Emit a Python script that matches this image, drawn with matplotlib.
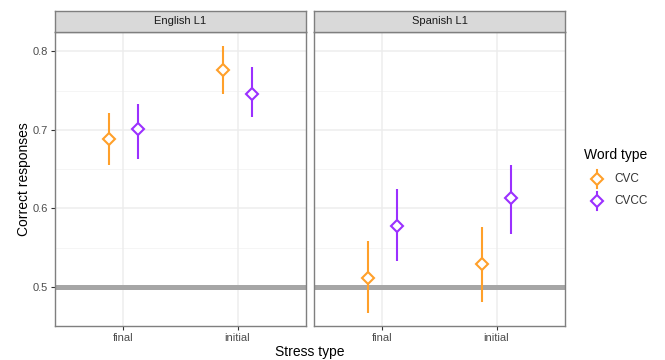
import matplotlib
matplotlib.use("Agg")
import matplotlib.pyplot as plt
from matplotlib.lines import Line2D
import numpy as np

panels = ["English L1", "Spanish L1"]
stress = ["final", "initial"]
word_types = ["CVC", "CVCC"]
colors = {"CVC": "#FFA02A", "CVCC": "#9B30FF"}

# [panel][word type] -> values per stress (final, initial)
mean = {
    "English L1": {"CVC": [0.688, 0.776], "CVCC": [0.701, 0.746]},
    "Spanish L1": {"CVC": [0.511, 0.529], "CVCC": [0.578, 0.613]},
}
lower = {
    "English L1": {"CVC": [0.655, 0.746], "CVCC": [0.663, 0.717]},
    "Spanish L1": {"CVC": [0.467, 0.481], "CVCC": [0.533, 0.568]},
}
upper = {
    "English L1": {"CVC": [0.722, 0.807], "CVCC": [0.733, 0.780]},
    "Spanish L1": {"CVC": [0.559, 0.577], "CVCC": [0.625, 0.655]},
}
chance = 0.5

W, H = 665, 360
fig = plt.figure(figsize=(W / 100, H / 100), dpi=100)
plt.rcParams['font.family'] = ['Liberation Sans', 'DejaVu Sans']

lefts = [55, 314]
pw = 251
top, bottom = 32, 326
strip_top = 11
dodge = {"CVC": -0.125, "CVCC": 0.125}
xs = np.arange(1, len(stress) + 1)

for i, p in enumerate(panels):
    ax = fig.add_axes([lefts[i] / W, 1 - bottom / H, pw / W, (bottom - top) / H])
    ax.set_xlim(0.4, 2.6)
    ax.set_ylim(0.4505, 0.8245)
    ax.set_facecolor("white")
    for yv in [0.55, 0.65, 0.75]:
        ax.axhline(yv, color="#F4F4F4", lw=0.6, zorder=0)
    for yv in [0.5, 0.6, 0.7, 0.8]:
        ax.axhline(yv, color="#EDEDED", lw=1.1, zorder=0)
    for xv in xs:
        ax.axvline(xv, color="#EDEDED", lw=1.1, zorder=0)
    ax.axhline(chance, color="#A6A6A6", lw=3.6, zorder=1)
    for wt in word_types:
        x = xs + dodge[wt]
        m = np.array(mean[p][wt])
        lo = np.array(lower[p][wt])
        hi = np.array(upper[p][wt])
        ax.vlines(x, lo, hi, color=colors[wt], lw=1.5, zorder=3)
        ax.plot(x, m, linestyle="none", marker="D", markersize=6.5,
                markerfacecolor="white", markeredgecolor=colors[wt],
                markeredgewidth=1.5, zorder=4)
    ax.set_xticks(xs)
    ax.set_xticklabels(stress)
    ax.set_yticks([0.5, 0.6, 0.7, 0.8])
    if i == 0:
        ax.set_yticklabels(["0.5", "0.6", "0.7", "0.8"])
    else:
        ax.tick_params(axis="y", left=False, labelleft=False)
    ax.tick_params(axis="both", colors="#333333", labelcolor="#4D4D4D",
                   labelsize=8, length=3, width=0.8, pad=2)
    for s in ax.spines.values():
        s.set_color("#7F7F7F")
        s.set_linewidth(1.0)
    # strip
    sax = fig.add_axes([lefts[i] / W, 1 - top / H, pw / W, (top - strip_top) / H])
    sax.set_facecolor("#D9D9D9")
    sax.set_xticks([]); sax.set_yticks([])
    for s in sax.spines.values():
        s.set_color("#7F7F7F")
        s.set_linewidth(1.0)
    sax.text(0.5, 0.5, p, ha="center", va="center", fontsize=8,
             color="#1A1A1A", transform=sax.transAxes)

fig.text(24 / W, 1 - 179 / H, "Correct responses", rotation=90,
         ha="center", va="center", fontsize=10)
fig.text(310 / W, 1 - 352 / H, "Stress type", ha="center", va="center",
         fontsize=10)

# legend
fig.text(584 / W, 1 - 155 / H, "Word type", ha="left", va="center", fontsize=10)
for j, wt in enumerate(word_types):
    yy = 1 - (179 + 22 * j) / H
    xk = 597 / W
    fig.add_artist(Line2D([xk, xk], [yy - 9 / H, yy + 9 / H], color=colors[wt],
                          lw=1.5, transform=fig.transFigure))
    fig.add_artist(Line2D([xk], [yy], linestyle="none", marker="D", markersize=6.5,
                          markerfacecolor="white", markeredgecolor=colors[wt],
                          markeredgewidth=1.5, transform=fig.transFigure))
    fig.text(614 / W, yy, wt, ha="left", va="center", fontsize=8.5,
             color="#333333")

fig.savefig("out.png", dpi=100, facecolor="white")
